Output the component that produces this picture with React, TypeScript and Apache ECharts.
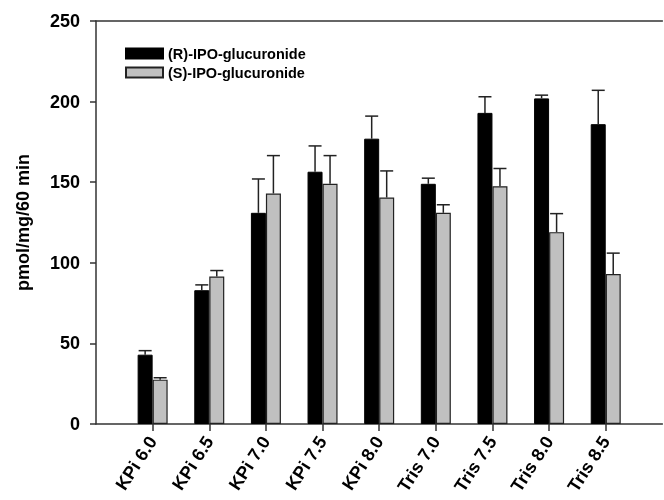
import React, { useEffect, useRef } from "react";
import * as echarts from "echarts";

const categories = ["KPi 6.0", "KPi 6.5", "KPi 7.0", "KPi 7.5", "KPi 8.0", "Tris 7.0", "Tris 7.5", "Tris 8.0", "Tris 8.5"];
const rName = "(R)-IPO-glucuronide";
const sName = "(S)-IPO-glucuronide";
const rValues = [43, 83, 131, 156.5, 177, 149, 193, 202, 186];
const rErrors = [2.5, 3.3, 21, 16, 14, 3.5, 10, 2, 21];
const sValues = [27.5, 91.5, 143, 149, 140.5, 131, 147.5, 119, 93];
const sErrors = [1.2, 3.7, 23.5, 17.5, 16.5, 5, 11, 11.5, 13];
const yTicks = [0, 50, 100, 150, 200, 250];

const FONT = "Arial, 'Liberation Sans', sans-serif";
const BAR_W = 15;

export default function App() {
  const ref = useRef<HTMLDivElement>(null);
  useEffect(() => {
    if (!ref.current) return;
    const chart = echarts.init(ref.current, undefined, { renderer: "svg" });
    const axisCats = ["", ...categories, ""];
    const errData = [
      ...rValues.map((v, i) => [i + 1, v, v + rErrors[i], -BAR_W / 2]),
      ...sValues.map((v, i) => [i + 1, v, v + sErrors[i], BAR_W / 2]),
    ];
    chart.setOption({
      animation: false,
      grid: { left: 96, right: -9, top: 21, bottom: 76, containLabel: false },
      legend: {
        data: [rName, sName],
        orient: "vertical",
        left: 120,
        top: 41,
        itemWidth: 37,
        itemHeight: 10,
        itemGap: 4,
        icon: "rect",
        textStyle: { fontFamily: FONT, fontWeight: "bold", fontSize: 14.5, color: "#000" },
      },
      xAxis: [
        {
          type: "category",
          data: axisCats,
          boundaryGap: false,
          axisLine: { show: true, lineStyle: { color: "#333", width: 1.5 } },
          axisTick: {
            show: true,
            length: 7,
            inside: false,
            interval: (idx: number, val: string) => val !== "",
            lineStyle: { color: "#333", width: 1.5 },
          },
          axisLabel: {
            rotate: 57,
            margin: 14,
            interval: 0,
            fontFamily: FONT,
            fontWeight: "bold",
            fontSize: 18,
            color: "#000",
          },
          splitLine: { show: false },
        },
        {
          type: "category",
          data: axisCats,
          boundaryGap: false,
          position: "top",
          axisLine: { show: true, lineStyle: { color: "#333", width: 1.5 } },
          axisTick: { show: false },
          axisLabel: { show: false },
          splitLine: { show: false },
        },
      ],
      yAxis: {
        type: "value",
        min: yTicks[0],
        max: yTicks[yTicks.length - 1],
        interval: 50,
        name: "pmol/mg/60 min",
        nameLocation: "middle",
        nameGap: 64,
        nameTextStyle: { fontFamily: FONT, fontWeight: "bold", fontSize: 18, color: "#000" },
        axisLine: { show: true, lineStyle: { color: "#333", width: 1.5 } },
        axisTick: { show: true, length: 6, inside: false, lineStyle: { color: "#333", width: 1.5 } },
        axisLabel: { margin: 16, fontFamily: FONT, fontWeight: "bold", fontSize: 18, color: "#000" },
        splitLine: { show: false },
      },
      series: [
        {
          name: rName,
          type: "bar",
          barWidth: BAR_W,
          barGap: "0%",
          data: rValues.map((v, i) => [i + 1, v]),
          itemStyle: { color: "#000", borderColor: "#000", borderWidth: 1 },
        },
        {
          name: sName,
          type: "bar",
          barWidth: BAR_W,
          barGap: "0%",
          data: sValues.map((v, i) => [i + 1, v]),
          itemStyle: { color: "#c0c0c0", borderColor: "#222", borderWidth: 1.2 },
        },
        {
          type: "custom",
          name: "err",
          z: 5,
          encode: { x: 0, y: [1, 2] },
          data: errData,
          renderItem: (params: any, api: any) => {
            const x = api.value(0);
            const top = api.value(1);
            const hi = api.value(2);
            const off = api.value(3);
            const p0 = api.coord([x, top]);
            const p1 = api.coord([x, hi]);
            const cx = p0[0] + off;
            const style = { stroke: "#222", lineWidth: 1.5, fill: null };
            return {
              type: "group",
              children: [
                { type: "line", shape: { x1: cx, y1: p0[1], x2: cx, y2: p1[1] }, style },
                { type: "line", shape: { x1: cx - 6.5, y1: p1[1], x2: cx + 6.5, y2: p1[1] }, style },
              ],
            };
          },
        },
      ],
    });
    return () => chart.dispose();
  }, []);
  return <div ref={ref} style={{ position: "fixed", left: 0, top: 0, width: 664, height: 500 }} />;
}
